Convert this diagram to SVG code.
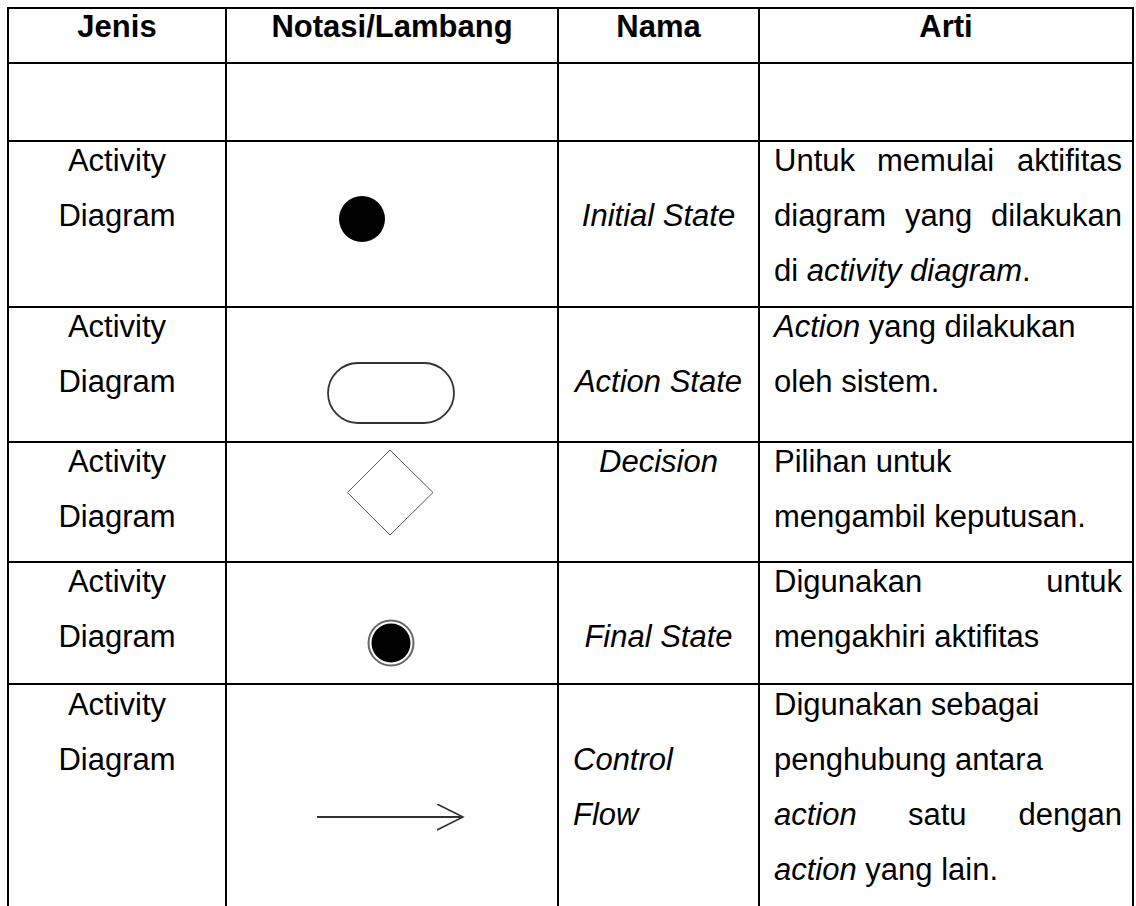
<svg xmlns="http://www.w3.org/2000/svg" width="1136" height="906" viewBox="0 0 1136 906">
  <style>
    .grid { stroke: #000; stroke-width: 2; fill: none; }
    text { font-family: "Liberation Sans", Arial, sans-serif; font-size: 31px; fill: #000; }
    .hd { font-weight: bold; text-anchor: middle; }
    .c { text-anchor: middle; }
    .e { text-anchor: end; }
    .i { font-style: italic; }
  </style>
  <defs>
    <marker id="openArrow" markerWidth="30" markerHeight="30" refX="26" refY="13" orient="auto" markerUnits="userSpaceOnUse">
      <path d="M0,0 L26,13 L0,26" fill="none" stroke="#333" stroke-width="1.6"/>
    </marker>
  </defs>
  <rect x="0" y="0" width="1136" height="906" fill="#fff"/>

  <g id="table-grid" class="grid">
    <path d="M8,8 H1133 M8,63 H1133 M8,141 H1133 M8,307 H1133 M8,442 H1133 M8,562 H1133 M8,684 H1133"/>
    <path d="M8,7 V906 M226,8 V906 M558,8 V906 M759,8 V906 M1133,7 V906"/>
  </g>

  <g id="header">
    <text class="hd" x="117" y="37">Jenis</text>
    <text class="hd" x="392" y="37">Notasi/Lambang</text>
    <text class="hd" x="658.5" y="37">Nama</text>
    <text class="hd" x="946" y="37">Arti</text>
  </g>

  <g id="row-initial-state">
    <text class="c" x="117" y="171">Activity</text>
    <text class="c" x="117" y="226">Diagram</text>
    <circle cx="362" cy="219" r="23" fill="#000"/>
    <text class="c i" x="658.5" y="226">Initial State</text>
    <text x="774" y="171">Untuk</text>
    <text x="877" y="171">memulai</text>
    <text class="e" x="1122" y="171">aktifitas</text>
    <text x="774" y="226">diagram</text>
    <text x="905" y="226">yang</text>
    <text class="e" x="1122" y="226">dilakukan</text>
    <text x="774" y="281">di <tspan class="i">activity diagram</tspan>.</text>
  </g>

  <g id="row-action-state">
    <text class="c" x="117" y="337">Activity</text>
    <text class="c" x="117" y="392">Diagram</text>
    <rect x="328" y="363" width="126" height="60" rx="30" ry="30" fill="#fff" stroke="#333" stroke-width="1.8"/>
    <text class="c i" x="658.5" y="392">Action State</text>
    <text x="774" y="337"><tspan class="i">Action</tspan> yang dilakukan</text>
    <text x="774" y="392">oleh sistem.</text>
  </g>

  <g id="row-decision">
    <text class="c" x="117" y="472">Activity</text>
    <text class="c" x="117" y="527">Diagram</text>
    <polygon points="390,450 433,492.5 390,535 347.5,492.5" fill="#fff" stroke="#555" stroke-width="1"/>
    <text class="c i" x="658.5" y="472">Decision</text>
    <text x="774" y="472">Pilihan untuk</text>
    <text x="774" y="527">mengambil keputusan.</text>
  </g>

  <g id="row-final-state">
    <text class="c" x="117" y="592">Activity</text>
    <text class="c" x="117" y="647">Diagram</text>
    <circle cx="391" cy="643" r="22.5" fill="#fff" stroke="#666" stroke-width="2"/>
    <circle cx="391" cy="643" r="19.5" fill="#000"/>
    <text class="c i" x="658.5" y="647">Final State</text>
    <text x="774" y="592">Digunakan</text>
    <text class="e" x="1122" y="592">untuk</text>
    <text x="774" y="647">mengakhiri aktifitas</text>
  </g>

  <g id="row-control-flow">
    <text class="c" x="117" y="715">Activity</text>
    <text class="c" x="117" y="770">Diagram</text>
    <text class="i" x="573" y="770">Control</text>
    <text class="i" x="573" y="825">Flow</text>
    <text x="774" y="715">Digunakan sebagai</text>
    <text x="774" y="770">penghubung antara</text>
    <text class="i" x="774" y="825">action</text>
    <text x="908" y="825">satu</text>
    <text class="e" x="1122" y="825">dengan</text>
    <text x="774" y="880"><tspan class="i">action</tspan> yang lain.</text>
  </g>

  <g id="connectors">
    <path d="M317,817 H463" fill="none" stroke="#333" stroke-width="1.8" marker-end="url(#openArrow)"/>
  </g>
</svg>
